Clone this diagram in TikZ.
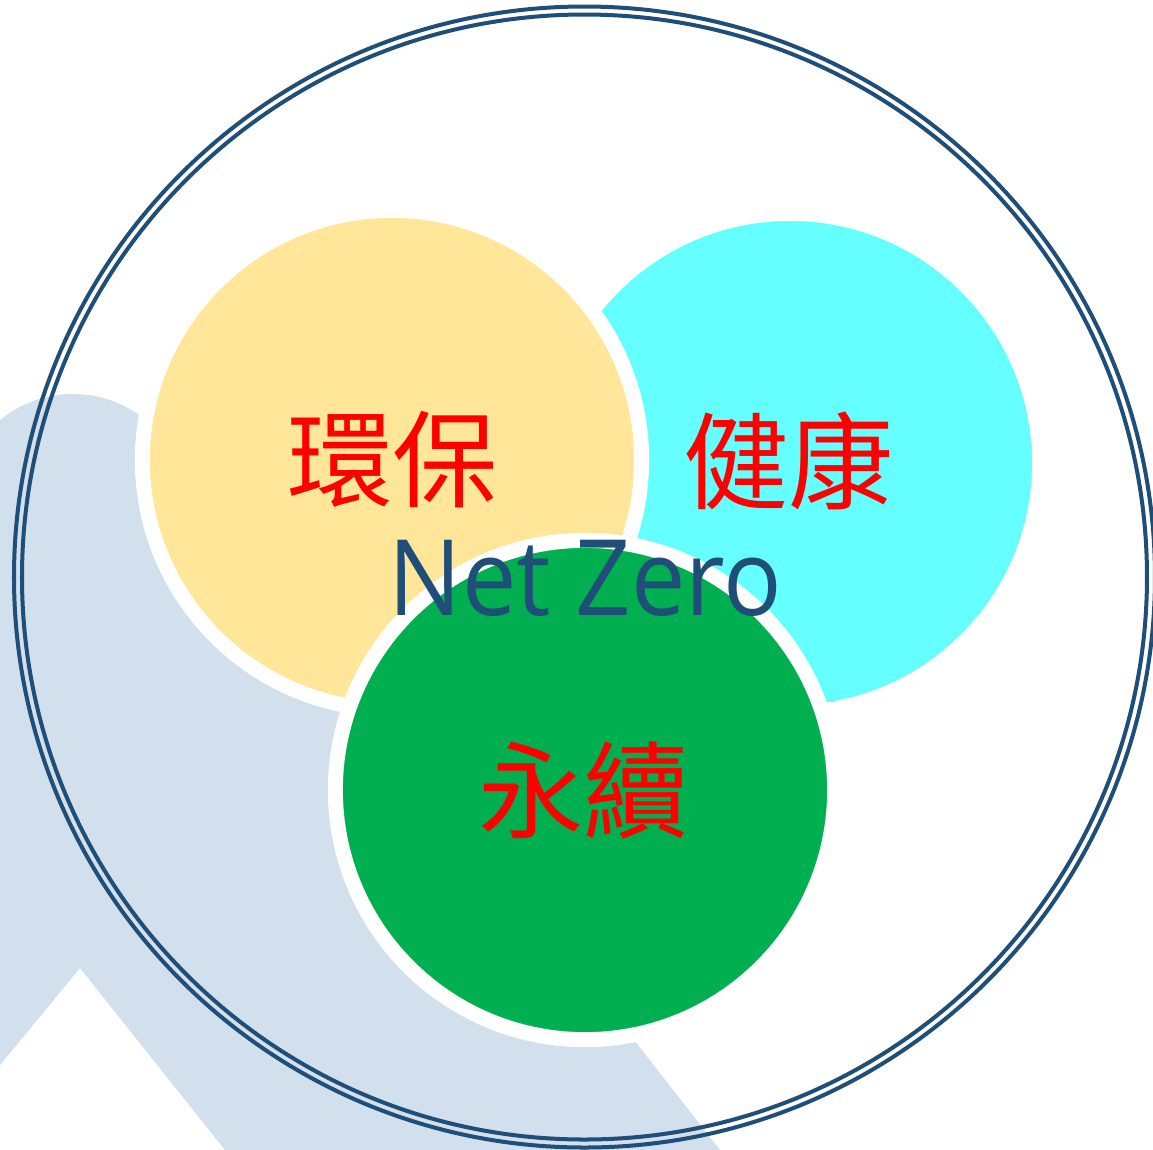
\documentclass[tikz,border=0pt]{standalone}
\usepackage{fontspec}
\newfontfamily\cjkfont{Noto Sans CJK TC}
\newfontfamily\latfont[FakeStretch=0.92]{Open Sans}
\definecolor{navy}{HTML}{1F4E79}
\definecolor{bgblue}{HTML}{D2DFEC}
\definecolor{goldc}{HTML}{FFE699}
\definecolor{cyanc}{HTML}{66FFFF}
\definecolor{greenc}{HTML}{00B050}
\tikzset{
  bubble/.style={circle, draw=white, line width=4.27pt, minimum size=4.99cm, inner sep=0pt},
  cjklabel/.style={text=red, font=\cjkfont\fontsize{30pt}{30pt}\selectfont, inner sep=0pt},
  ring/.style={draw=navy, line width=1.14pt}
}
\begin{document}
\begin{tikzpicture}[x=0.01cm,y=-0.01cm]
\path[use as bounding box] (0,0) rectangle (1153,1150);
\begin{scope}
  \clip (0,0) rectangle (1153,1150);
  \fill[bgblue] (73,509) circle[radius=115];
  \fill[bgblue] (-17,437) -- (163,437) -- (720,1150) -- (225,1150) -- (80,968) -- (-70,1150) -- (-600,1150) -- cycle;
  \draw[ring] (584.5,577) circle[radius=570.5];
  \draw[ring] (584.5,577) circle[radius=562.5];
\end{scope}
\node[bubble, fill=cyanc] (health) at (790,463) {};
\node[bubble, fill=goldc] (env) at (392,460) {};
\node[bubble, fill=greenc] (sust) at (585,790) {};
\node[cjklabel] (envt) at (393,460) {環保};
\node[cjklabel] (healtht) at (789,460.5) {健康};
\node[cjklabel] (sustt) at (584,790) {永續};
\node[text=navy, font=\latfont\fontsize{30pt}{30pt}\selectfont, inner sep=0pt] (nz) at (585.5,578) {Net Zero};
\end{tikzpicture}
\end{document}
